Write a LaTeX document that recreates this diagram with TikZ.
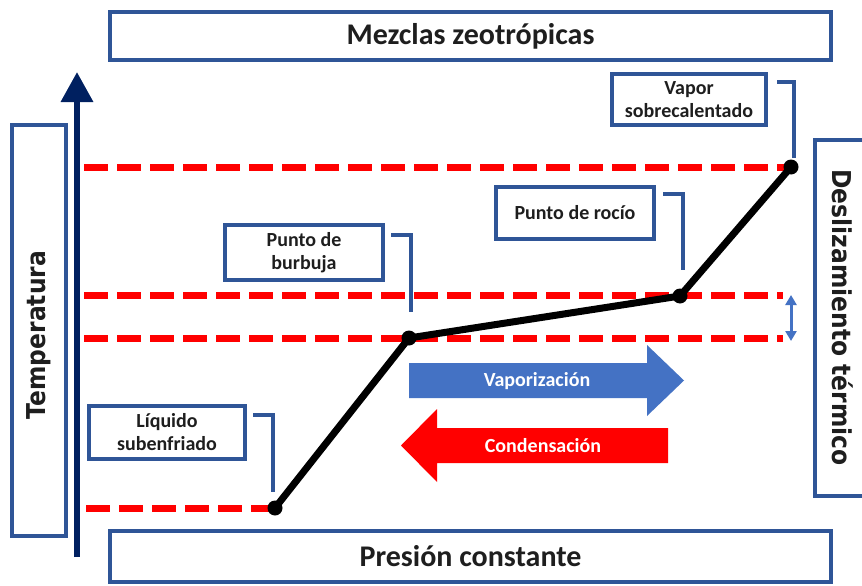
\documentclass[tikz,border=0pt]{standalone}
\usepackage{fontspec}
\setmainfont{Carlito}
\newfontfamily\dvfont[FakeStretch=0.9]{DejaVu Sans}
\usetikzlibrary{arrows.meta}
\definecolor{boxblue}{RGB}{47,85,151}
\definecolor{arrblue}{RGB}{68,114,196}
\definecolor{navyax}{RGB}{0,32,96}
\definecolor{txt}{RGB}{30,30,30}
\begin{document}
\begin{tikzpicture}[x=1pt,y=-1pt,
  frame/.style={draw=boxblue, line width=3.5pt, fill=white, inner sep=0pt, text=txt},
  callout/.style={draw=boxblue, line width=4pt, fill=white, inner sep=0pt, align=center,
    font=\bfseries\fontsize{20}{23}\selectfont, text=txt},
  lead/.style={draw=boxblue, line width=3.5pt},
  reddash/.style={draw=red, line width=7pt, dash pattern=on 24pt off 9pt},
  curveline/.style={line width=7pt, black, line join=round},
  dot/.style={circle, fill=black, inner sep=0pt, minimum size=15pt},
  arrtext/.style={text=white, font=\bfseries\fontsize{20}{24}\selectfont}]
\useasboundingbox (0,0) rectangle (862,586);
\clip (0,0) rectangle (862,586);
\fill[white] (0,0) rectangle (862,586);

% frames
\node[frame, minimum width=721pt, minimum height=48pt, font=\bfseries\fontsize{30}{36}\selectfont] (title) at (470.5,36) {Mezclas zeotrópicas};
\node[frame, minimum width=721pt, minimum height=51pt, font=\bfseries\fontsize{30}{36}\selectfont] (pres) at (470.5,556.5) {Presión constante};
\node[frame, minimum width=54pt, minimum height=411pt] (tbox) at (39,330.5) {};
\node[rotate=90, font=\dvfont\bfseries\fontsize{26}{30}\selectfont, text=txt] (temp) at (39,335) {Temperatura};
\draw[boxblue, line width=3.5pt, fill=white] (815,140) rectangle (880,496);
\node[rotate=-90, font=\dvfont\bfseries\fontsize{26}{30}\selectfont, text=txt] (desl) at (843,317.5) {Deslizamiento térmico};

% axis arrow
\coordinate (axbot) at (77,557);
\coordinate (axtop) at (77,72);
\draw[navyax, line width=6.5pt, -{Triangle[length=30pt,width=31pt]}] (axbot) -- (axtop);

% points
\coordinate (p1) at (275,508);
\coordinate (p2) at (409,338);
\coordinate (p3) at (680,296);
\coordinate (p4) at (791,167);

% dashed levels
\coordinate (d4) at (84,167);
\coordinate (d3a) at (84,295); \coordinate (d3b) at (783,295);
\coordinate (d2a) at (84,338); \coordinate (d2b) at (783,338);
\coordinate (d1) at (86,508);
\draw[reddash] (d4) -- (p4);
\draw[reddash] (d3a) -- (d3b);
\draw[reddash] (d2a) -- (d2b);
\draw[reddash] (d1) -- (p1);

% curve
\draw[curveline] (p1) -- (p2) -- (p3) -- (p4);
\foreach \p in {p1,p2,p3,p4} \node[dot] at (\p) {};

% glide double arrow
\coordinate (g1) at (791,295);
\coordinate (g2) at (791,341);
\draw[arrblue, line width=3pt, {Triangle[length=10pt,width=11pt]}-{Triangle[length=10pt,width=11pt]}] (g1) -- (g2);

% callouts
\node[callout, minimum width=154pt, minimum height=51pt] (vap) at (689,99.5) {Vapor\\sobrecalentado};
\node[callout, minimum width=158pt, minimum height=52pt] (roc) at (575,213) {Punto de rocío};
\node[callout, minimum width=158pt, minimum height=55pt] (bur) at (304,252.5) {Punto de\\burbuja};
\node[callout, minimum width=156pt, minimum height=53pt] (liq) at (167,432.5) {Líquido\\subenfriado};

\coordinate (l4a) at (777,82);  \coordinate (l4b) at (794,158);
\coordinate (l3a) at (663,194); \coordinate (l3b) at (683,270);
\coordinate (l2a) at (391,235); \coordinate (l2b) at (411,312);
\coordinate (l1a) at (253,415); \coordinate (l1b) at (273,492);
\draw[lead] (l4a) -| (l4b);
\draw[lead] (l3a) -| (l3b);
\draw[lead] (l2a) -| (l2b);
\draw[lead] (l1a) -| (l1b);

% process arrows
\fill[arrblue] (409,363) -- (647,363) -- (647,345) -- (684,380.5) -- (647,416) -- (647,398) -- (409,398) -- cycle;
\node[arrtext] (vapz) at (537,381) {Vaporización};
\fill[red] (668,428) -- (437,428) -- (437,409) -- (401,445.5) -- (437,482) -- (437,463) -- (668,463) -- cycle;
\node[arrtext] (cond) at (543,446) {Condensación};
\end{tikzpicture}
\end{document}
